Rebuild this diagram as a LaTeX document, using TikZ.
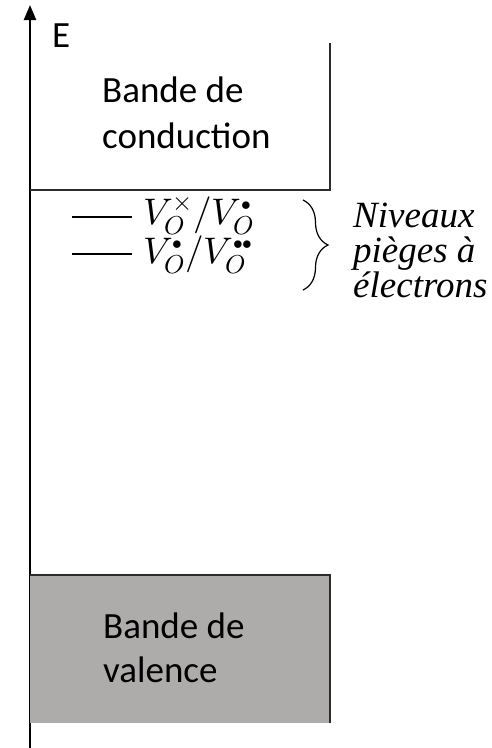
\documentclass[tikz,border=0pt]{standalone}
\usepackage{fontspec}
\usepackage{unicode-math}
\setmainfont{Liberation Serif}
\setmathfont{Latin Modern Math}
\newfontfamily\bandfont{Carlito}
\usetikzlibrary{arrows.meta,decorations.pathreplacing}
\definecolor{valgray}{HTML}{AEABAB}
\definecolor{edge}{HTML}{2B2B2B}
\newcommand{\chg}{\mathord{\scalebox{0.75}{$\scriptstyle\bullet$}}}

\begin{document}
\begin{tikzpicture}[
  x=1pt, y=-1pt,
  >={Triangle[length=15pt,width=12pt]},
  axis/.style={->, line width=2.4pt, draw=black},
  band/.style={draw=edge, line width=1.3pt},
  level/.style={line width=2pt, draw=black},
  bandtext/.style={font=\bandfont\fontsize{37}{46}\selectfont,
                   align=left, inner sep=0pt, anchor=base west},
  trap/.style={font=\fontsize{37}{37}\selectfont, inner sep=0pt,
               anchor=base west},
  note/.style={font={\itshape\fontsize{37}{35}\selectfont\lineskiplimit-50pt\relax},
               align=left, inner sep=0pt, anchor=base west},
]
\useasboundingbox (0,0) rectangle (491,748);

% energy axis
\coordinate (o) at (30,748);
\coordinate (top) at (30,5);
\draw[axis] (o) -- (top);
\node[bandtext] (E) at (52,47) {E};

% conduction band
\coordinate (cb1) at (30,190);
\coordinate (cb2) at (330,190);
\coordinate (cb3) at (330,43);
\draw[band] (cb1) -- (cb2) -- (cb3);
\node[bandtext] (cond) at (102,148) {Bande de\\conduction};

% trap levels
\coordinate (l1a) at (72,217);
\coordinate (l1b) at (132,217);
\coordinate (l2a) at (72,254);
\coordinate (l2b) at (132,254);
\draw[level] (l1a) -- (l1b);
\draw[level] (l2a) -- (l2b);
\node[trap] (v1) at (143,224) {$V_O^{\times}/V_O^{\chg}$};
\node[trap] (v2) at (143,263) {$V_O^{\chg}/V_O^{\chg\chg}$};

\coordinate (br1) at (303,200);
\coordinate (br2) at (303,290);
\draw[line width=1.2pt, decorate, decoration={brace, amplitude=25pt}] (br1) -- (br2);
\node[note] (niv) at (353,297) {Niveaux\\pièges à\\électrons};

% valence band
\coordinate (vb1) at (30,575);
\coordinate (vb2) at (330,723);
\fill[valgray] (vb1) rectangle (vb2);
\draw[band] (vb1) -- (vb1 -| vb2) -- (vb2);
\node[bandtext, font=\bandfont\fontsize{37}{44}\selectfont] (val) at (103,682) {Bande de\\valence};
\end{tikzpicture}
\end{document}
